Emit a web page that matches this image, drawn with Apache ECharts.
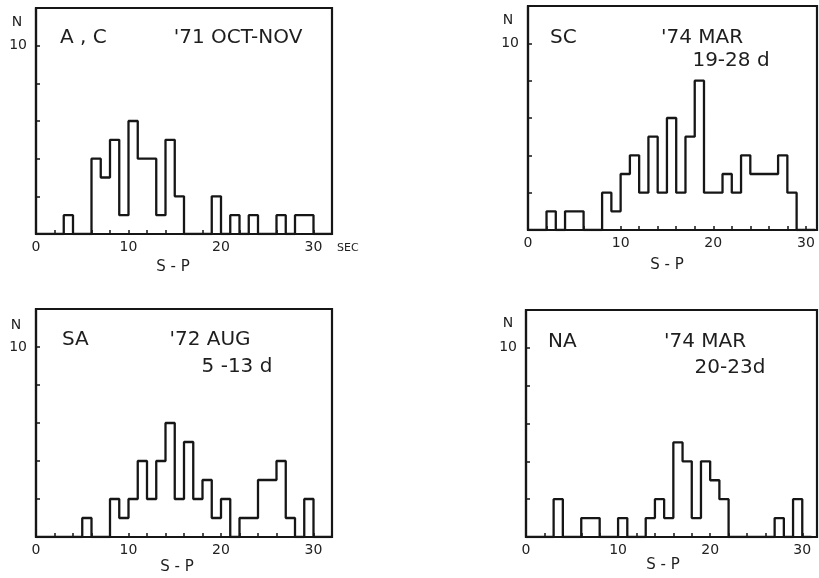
<!DOCTYPE html>
<html>
<head>
<meta charset="utf-8">
<script src="https://cdn.jsdelivr.net/npm/echarts@6/dist/echarts.min.js"></script>
<style>
  html, body { margin: 0; padding: 0; background: #fff; }
  #chart { width: 819px; height: 578px; }
</style>
</head>
<body>
<div id="chart"></div>
<script>
// counts per 1-sec S-P bin, bins starting at 0,1,2,...
var countsAC = [0,0,0,1,0,0,4,3,5,1,6,4,4,1,5,2,0,0,0,2,0,1,0,1,0,0,1,0,1,1,0,0];
var countsSC = [0,0,1,0,1,1,0,0,2,1,3,4,2,5,2,6,2,5,8,2,2,3,2,4,3,3,3,4,2,0,0];
var countsSA = [0,0,0,0,0,1,0,0,2,1,2,4,2,4,6,2,5,2,3,1,2,0,1,1,3,3,4,1,0,2,0,0];
var countsNA = [0,0,0,2,0,0,1,1,0,0,1,0,0,1,2,1,5,4,1,4,3,2,0,0,0,0,0,1,0,2,0];
var xLabels = [0, 10, 20, 30];
var yLabels = [10];

var ink = '#161616';
var font = 'DejaVu Sans';

function steps(counts) {
    var pts = counts.map(function (c, i) { return [i, c]; });
    pts.push([counts.length, 0]);
    return pts;
}

var panels = [
    { left: 36,  top: 8,   width: 296, height: 226, xmax: 32,   data: countsAC },
    { left: 528, top: 6,   width: 289, height: 224, xmax: 31.2, data: countsSC },
    { left: 36,  top: 309, width: 296, height: 228, xmax: 32,   data: countsSA },
    { left: 526, top: 310, width: 291, height: 227, xmax: 31.6, data: countsNA }
];

var grids = [], xAxes = [], yAxes = [], series = [];
panels.forEach(function (p, i) {
    grids.push({
        left: p.left, top: p.top, width: p.width, height: p.height,
        show: true, borderColor: ink, borderWidth: 2.2,
        outerBoundsMode: 'none'
    });
    xAxes.push({
        type: 'value', gridIndex: i, min: 0, max: p.xmax, interval: 2,
        axisLine: { lineStyle: { color: ink, width: 2.2 } },
        axisTick: { inside: true, length: 4, lineStyle: { color: ink, width: 1.5 } },
        splitLine: { show: false },
        axisLabel: {
            margin: 6, color: '#222', fontSize: 14, fontFamily: font,
            showMaxLabel: false,
            formatter: function (v) { return xLabels.indexOf(v) >= 0 ? String(v) : ''; }
        }
    });
    yAxes.push({
        type: 'value', gridIndex: i, min: 0, max: 12, interval: 2,
        axisLine: { show: true, lineStyle: { color: ink, width: 2.2 } },
        axisTick: { show: true, inside: true, length: 4, lineStyle: { color: ink, width: 1.5 } },
        splitLine: { show: false },
        axisLabel: {
            margin: 9, color: '#222', fontSize: 14, fontFamily: font,
            formatter: function (v) { return yLabels.indexOf(v) >= 0 ? String(v) : ''; }
        }
    });
    series.push({
        type: 'line', xAxisIndex: i, yAxisIndex: i, step: 'end',
        showSymbol: false, animation: false,
        lineStyle: { color: ink, width: 2.3 },
        data: steps(p.data)
    });
});

function txt(x, y, s, size, align) {
    return {
        type: 'text', x: x, y: y,
        style: {
            text: s, fill: '#1e1e1e', font: size + 'px "' + font + '"',
            textAlign: align || 'left', textVerticalAlign: 'middle'
        }
    };
}

var texts = [
    txt(17, 22, 'N', 14, 'center'),
    txt(60, 38, 'A , C', 20),
    txt(238, 38, "'71 OCT-NOV", 20, 'center'),
    txt(337, 248, 'SEC', 11),
    txt(173, 267, 'S - P', 15, 'center'),

    txt(508, 20, 'N', 14, 'center'),
    txt(550, 38, 'SC', 20),
    txt(702, 38, "'74 MAR", 20, 'center'),
    txt(731, 61, '19-28 d', 20, 'center'),
    txt(667, 265, 'S - P', 15, 'center'),

    txt(16, 325, 'N', 14, 'center'),
    txt(62, 340, 'SA', 20),
    txt(210, 340, "'72 AUG", 20, 'center'),
    txt(237, 367, '5 -13 d', 20, 'center'),
    txt(177, 567, 'S - P', 15, 'center'),

    txt(508, 323, 'N', 14, 'center'),
    txt(548, 342, 'NA', 20),
    txt(705, 342, "'74 MAR", 20, 'center'),
    txt(730, 368, '20-23d', 20, 'center'),
    txt(663, 565, 'S - P', 15, 'center')
];

var myChart = echarts.init(document.getElementById('chart'));
var option = {
    animation: false,
    backgroundColor: '#fff',
    grid: grids,
    xAxis: xAxes,
    yAxis: yAxes,
    series: series,
    graphic: texts
};
option && myChart.setOption(option);
</script>
</body>
</html>
